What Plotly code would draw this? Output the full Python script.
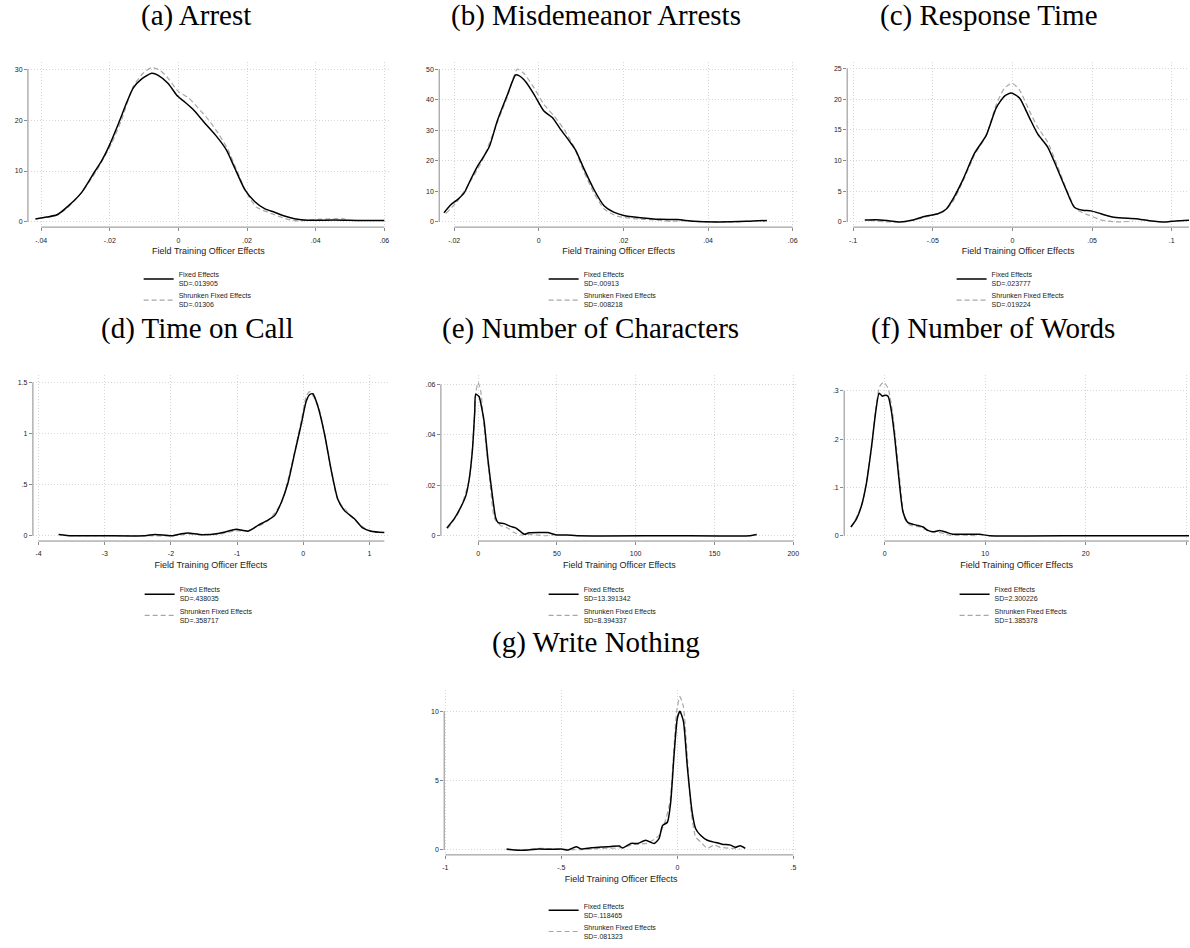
import plotly.graph_objects as go

# ---- values (kernel densities of FTO effects) ----
# (a) Arrest
a_fe_x = [-0.0417, -0.0384, -0.0354, -0.032, -0.0282, -0.0243, -0.0224, -0.0203, -0.0175, -0.015,
          -0.0132, -0.0107, -0.0078, -0.0059, -0.003, -0.0005, 0.0014, 0.0043, 0.0077, 0.0111,
          0.014, 0.0164, 0.0193, 0.0222, 0.0251, 0.028, 0.0309, 0.0338, 0.0377, 0.0455, 0.0532, 0.06]
a_fe_y = [0.58, 0.96, 1.4, 3.2, 5.8, 10.0, 12.0, 14.8, 19.3, 23.6,
          26.3, 28.1, 29.2, 28.8, 27.2, 24.9, 23.8, 22.1, 19.4, 16.8,
          14.1, 10.6, 6.4, 4.0, 2.6, 1.9, 1.15, 0.64, 0.32, 0.38, 0.26, 0.26]
a_sh_x = [-0.0385, -0.0354, -0.032, -0.0282, -0.0243, -0.0195, -0.0165, -0.0132, -0.0103, -0.0078,
          -0.0054, -0.003, 0.0, 0.0029, 0.0057, 0.0086, 0.0116, 0.0145, 0.0169, 0.0198,
          0.0227, 0.0261, 0.029, 0.0319, 0.0348, 0.0406, 0.0474, 0.0498]
a_sh_y = [0.9, 1.3, 3.0, 5.8, 9.6, 15.4, 20.2, 26.6, 29.2, 30.3,
          29.8, 28.2, 25.6, 24.4, 22.4, 20.2, 17.4, 14.1, 10.3, 5.8,
          2.9, 1.9, 1.15, 0.5, 0.2, 0.5, 0.64, 0.4]

# (b) Misdemeanor Arrests
b_fe_x = [-0.0224, -0.0208, -0.0192, -0.0176, -0.0161, -0.0145, -0.0133, -0.0117, -0.0098, -0.0074,
          -0.0055, -0.0047, -0.0031, -0.0011, 0.0012, 0.0032, 0.0051, 0.0071, 0.0087, 0.0106,
          0.013, 0.0154, 0.0177, 0.0201, 0.024, 0.0287, 0.0327, 0.0366, 0.0421, 0.0492, 0.0539]
b_fe_y = [3.0, 5.6, 7.3, 9.6, 13.9, 18.2, 20.8, 24.6, 33.1, 41.7,
          48.1, 47.9, 45.9, 41.7, 36.3, 34.2, 30.4, 26.7, 23.5, 17.6,
          10.7, 5.3, 3.2, 2.1, 1.4, 0.85, 0.75, 0.2, 0.0, 0.2, 0.5]
b_sh_x = [-0.022, -0.0192, -0.0161, -0.0133, -0.0098, -0.0074, -0.0051, -0.0035, -0.0011, 0.0012,
          0.0036, 0.0059, 0.0083, 0.0106, 0.013, 0.0154, 0.0185, 0.0224, 0.0271, 0.0311,
          0.035, 0.0382, 0.046, 0.0492]
b_sh_y = [2.7, 6.9, 13.4, 20.3, 32.6, 41.1, 50.0, 48.6, 43.8, 38.5,
          34.7, 30.4, 24.6, 16.6, 9.6, 4.3, 1.9, 1.1, 0.64, 0.2,
          0.4, 0.1, 0.0, 0.2]

# (c) Response Time
c_fe_x = [-0.0927, -0.0854, -0.077, -0.0708, -0.0624, -0.0541, -0.0468, -0.0415, -0.0374, -0.0311,
          -0.0238, -0.0165, -0.0102, -0.005, -0.0008, 0.0044, 0.0106, 0.0159, 0.0221, 0.0284,
          0.0336, 0.0388, 0.0441, 0.0493, 0.0555, 0.0628, 0.0691, 0.0775, 0.0858, 0.0962, 0.1025, 0.1109]
c_fe_y = [0.32, 0.37, 0.16, 0.0, 0.32, 0.96, 1.33, 2.1, 3.7, 6.9,
          11.2, 14.1, 18.6, 20.5, 21.0, 20.2, 17.0, 14.3, 12.2, 8.5,
          5.3, 2.4, 1.9, 1.8, 1.33, 0.8, 0.64, 0.53, 0.21, 0.0, 0.16, 0.27]
c_sh_x = [-0.0896, -0.079, -0.0708, -0.0603, -0.052, -0.0436, -0.0374, -0.0311, -0.0238, -0.0165,
          -0.0102, -0.005, -0.0002, 0.0044, 0.0106, 0.0159, 0.0221, 0.0284, 0.0347, 0.0399,
          0.0482, 0.0566, 0.0649, 0.0754]
c_sh_y = [0.27, 0.0, 0.0, 0.4, 0.96, 1.6, 3.3, 6.6, 10.9, 14.1,
          19.1, 21.8, 22.6, 21.5, 18.1, 15.4, 13.0, 9.0, 4.8, 2.1,
          1.06, 0.27, 0.0, 0.1]

# (d) Time on Call
d_fe_x = [-3.698, -3.497, -3.045, -2.392, -2.241, -1.99, -1.839, -1.739, -1.538, -1.286,
          -1.085, -1.01, -0.834, -0.683, -0.533, -0.432, -0.332, -0.231, -0.131, -0.03,
          0.045, 0.095, 0.146, 0.221, 0.322, 0.422, 0.523, 0.623, 0.774, 0.899, 1.025, 1.226]
d_fe_y = [0.013, 0.0, 0.0, 0.0, 0.013, 0.0, 0.019, 0.026, 0.01, 0.022,
          0.054, 0.064, 0.045, 0.102, 0.153, 0.198, 0.326, 0.517, 0.804, 1.092,
          1.315, 1.38, 1.39, 1.267, 0.996, 0.645, 0.357, 0.246, 0.166, 0.077, 0.045, 0.032]
d_sh_x = [-3.548, -2.392, -1.99, -1.739, -1.286, -1.035, -0.834, -0.533, -0.332, -0.131,
          -0.03, 0.045, 0.095, 0.221, 0.322, 0.422, 0.523, 0.774, 0.975, 1.126]
d_sh_y = [0.0, 0.0, 0.0, 0.016, 0.013, 0.048, 0.051, 0.147, 0.319, 0.82,
          1.124, 1.363, 1.41, 1.283, 0.996, 0.638, 0.351, 0.16, 0.054, 0.032]

# (e) Number of Characters
e_fe_x = [-19.8, -15.2, -11.0, -7.8, -5.7, -3.6, -2.1, -1.5, 0.6, 2.5,
          3.8, 6.3, 9.1, 11.2, 12.7, 16.5, 20.7, 23.8, 27.0, 29.5,
          32.3, 39.7, 43.9, 50.2, 56.5, 62.9, 120.0, 172.6, 176.8]
e_fe_y = [0.0031, 0.0067, 0.0113, 0.0158, 0.0222, 0.0339, 0.0494, 0.0561, 0.0552, 0.05,
          0.0455, 0.03, 0.0158, 0.007, 0.0052, 0.0048, 0.0037, 0.0031, 0.0016, 0.0006,
          0.0012, 0.0013, 0.0013, 0.0003, 0.0003, 0.0, 0.0, 0.0, 0.0005]
e_sh_x = [-19.4, -12.0, -5.7, -3.0, -1.3, 0.0, 1.7, 3.8, 7.0, 10.5,
          14.3, 18.6, 22.8, 27.0, 31.2, 37.6, 41.8, 48.1]
e_sh_y = [0.0028, 0.0096, 0.022, 0.04, 0.0572, 0.0608, 0.0572, 0.0429, 0.0248, 0.0067,
          0.0041, 0.0031, 0.0013, 0.0003, 0.0005, 0.0003, 0.0, 0.0003]

# (f) Number of Words
f_fe_x = [-3.38, -2.81, -2.32, -1.82, -1.32, -0.89, -0.56, -0.23, 0.0, 0.33,
          0.66, 0.99, 1.42, 1.82, 2.32, 3.15, 3.81, 4.3, 4.8, 5.46,
          6.13, 6.79, 7.45, 8.44, 9.44, 10.43, 20.4, 30.3]
f_fe_y = [0.018, 0.035, 0.062, 0.109, 0.184, 0.258, 0.295, 0.289, 0.291, 0.289,
          0.258, 0.204, 0.116, 0.049, 0.027, 0.022, 0.018, 0.011, 0.008, 0.011,
          0.007, 0.003, 0.003, 0.003, 0.003, 0.0, 0.0, 0.0]
f_sh_x = [-3.31, -2.32, -1.32, -0.89, -0.5, -0.1, 0.33, 0.76, 1.16, 1.56,
          1.99, 2.48, 3.48, 4.47, 5.46, 6.46, 7.78, 9.1]
f_sh_y = [0.018, 0.061, 0.18, 0.265, 0.309, 0.318, 0.305, 0.258, 0.184, 0.103,
          0.035, 0.022, 0.018, 0.009, 0.007, 0.001, 0.001, 0.0]

# (g) Write Nothing
g_fe_x = [-0.736, -0.7, -0.643, -0.6, -0.543, -0.5, -0.471, -0.436, -0.414, -0.371,
          -0.329, -0.286, -0.25, -0.236, -0.2, -0.171, -0.136, -0.1, -0.079, -0.064,
          -0.043, -0.029, -0.014, 0.0, 0.011, 0.026, 0.043, 0.064, 0.079, 0.1,
          0.129, 0.164, 0.193, 0.229, 0.25, 0.271, 0.293]
g_fe_y = [0.07, 0.0, 0.0, 0.07, 0.05, 0.07, 0.0, 0.24, 0.07, 0.16,
          0.21, 0.26, 0.28, 0.14, 0.47, 0.47, 0.7, 0.47, 0.82, 1.76,
          2.0, 3.4, 6.9, 9.5, 10.0, 9.3, 6.0, 2.7, 1.53, 1.06,
          0.7, 0.54, 0.42, 0.35, 0.19, 0.31, 0.12]
g_sh_x = [-0.736, -0.671, -0.6, -0.5, -0.414, -0.329, -0.243, -0.186, -0.129, -0.079,
          -0.05, -0.031, -0.017, -0.003, 0.011, 0.026, 0.043, 0.06, 0.079, 0.1,
          0.129, 0.157, 0.186, 0.229, 0.271]
g_sh_y = [0.02, 0.0, 0.12, 0.05, 0.02, 0.12, 0.16, 0.4, 0.49, 1.06,
          2.2, 3.6, 6.7, 10.0, 11.06, 10.35, 6.7, 2.7, 0.94, 0.59,
          0.12, 0.35, 0.19, 0.12, 0.07]

titles = ["(a) Arrest", "(b) Misdemeanor Arrests", "(c) Response Time", "(d) Time on Call",
          "(e) Number of Characters", "(f) Number of Words", "(g) Write Nothing"]
sd_fe = [".013905", ".00913", ".023777", ".438035", "13.391342", "2.300226", ".118465"]
sd_shrunk = [".01306", ".008218", ".019224", ".358717", "8.394337", "1.385378", ".081323"]

x_ticks = [[-0.04, -0.02, 0, 0.02, 0.04, 0.06], [-0.02, 0, 0.02, 0.04, 0.06],
           [-0.1, -0.05, 0, 0.05, 0.1], [-4, -3, -2, -1, 0, 1], [0, 50, 100, 150, 200],
           [0, 10, 20, 30], [-1, -0.5, 0, 0.5]]
x_labels = [["-.04", "-.02", "0", ".02", ".04", ".06"], ["-.02", "0", ".02", ".04", ".06"],
            ["-.1", "-.05", "0", ".05", ".1"], ["-4", "-3", "-2", "-1", "0", "1"],
            ["0", "50", "100", "150", "200"], ["0", "10", "20", "30"], ["-1", "-.5", "0", ".5"]]
y_ticks = [[0, 10, 20, 30], [0, 10, 20, 30, 40, 50], [0, 5, 10, 15, 20, 25], [0, 0.5, 1, 1.5],
           [0, 0.02, 0.04, 0.06], [0, 0.1, 0.2, 0.3], [0, 5, 10]]
y_labels = [["0", "10", "20", "30"], ["0", "10", "20", "30", "40", "50"],
            ["0", "5", "10", "15", "20", "25"], ["0", ".5", "1", "1.5"],
            ["0", ".02", ".04", ".06"], ["0", ".1", ".2", ".3"], ["0", "5", "10"]]

fe_x = [a_fe_x, b_fe_x, c_fe_x, d_fe_x, e_fe_x, f_fe_x, g_fe_x]
fe_y = [a_fe_y, b_fe_y, c_fe_y, d_fe_y, e_fe_y, f_fe_y, g_fe_y]
sh_x = [a_sh_x, b_sh_x, c_sh_x, d_sh_x, e_sh_x, f_sh_x, g_sh_x]
sh_y = [a_sh_y, b_sh_y, c_sh_y, d_sh_y, e_sh_y, f_sh_y, g_sh_y]

# ---- layout geometry, in page pixels of the 1190x948 window ----
W, H = 1190, 948


def px_x(p):
    return p / W


def px_y(p):
    return 1 - p / H


# plot region: left, right, top, bottom
boxes = [(26, 388, 63, 232), (438.3, 798, 63, 232), (847.3, 1190, 63, 232),
         (31, 388, 383.3, 552.7), (440, 798, 383.3, 552.7), (844.3, 1190, 383.3, 552.7),
         (443.3, 798, 705, 873.3)]
x_ranges = [[-0.04387, 0.06137], [-0.02354, 0.06125], [-0.10376, 0.1108], [-4.086, 1.297],
            [-23.6, 203.0], [-4.04, 30.29], [-1.005, 0.52]]
y_ranges = [[-1.02, 31.48], [-1.70, 52.47], [-0.846, 26.12], [-0.0517, 1.571],
            [-0.0021, 0.06365], [-0.011, 0.3324], [-0.353, 11.53]]
title_xy = [(194, 15.5), (596, 15.5), (989, 15.5), (196, 335.5), (590, 335.5), (994, 335.5),
            (595, 656)]
legend_text_left = [177, 583, 992, 178, 583, 995, 583]
legend_first_line = [276, 276, 276, 598, 598, 598, 921]

SANS = "Liberation Sans"
AXIS_GRAY = "#8a8a8a"
GRID = "#d6d6d6"

fig = go.Figure()
layout = dict(width=W, height=H, margin=dict(l=0, r=0, t=0, b=0),
              paper_bgcolor="white", plot_bgcolor="white",
              font=dict(family=SANS, color="#222"))
annotations = []
shapes = []

for i in range(7):
    n = "" if i == 0 else str(i + 1)
    xa, ya, lg = "x" + n, "y" + n, "legend" + n
    left, right, top, bottom = boxes[i]

    fig.add_trace(go.Scatter(
        x=sh_x[i], y=sh_y[i], xaxis=xa, yaxis=ya, mode="lines", legend=lg, legendrank=2,
        name="Shrunken Fixed Effects<br>SD=" + sd_shrunk[i],
        line=dict(color="#a8a8a8", width=1.2, dash="5px,3px", shape="spline", smoothing=0.6),
        hoverinfo="skip"))
    fig.add_trace(go.Scatter(
        x=fe_x[i], y=fe_y[i], xaxis=xa, yaxis=ya, mode="lines", legend=lg, legendrank=1,
        name="Fixed Effects<br>SD=" + sd_fe[i],
        line=dict(color="black", width=1.5, shape="spline", smoothing=0.6),
        hoverinfo="skip"))

    layout["xaxis" + n] = dict(
        domain=[px_x(left), min(px_x(right), 1)], range=x_ranges[i], anchor=ya,
        tickvals=x_ticks[i], ticktext=x_labels[i], ticks="outside", ticklen=3,
        tickcolor=AXIS_GRAY, tickfont=dict(size=7, family=SANS, color="#222"),
        ticklabelstandoff=3,
        showline=False, zeroline=False, showgrid=True, gridcolor=GRID, griddash="1px,2px",
        gridwidth=1,
        title=dict(text="Field Training Officer Effects", font=dict(size=9, family=SANS),
                   standoff=5))
    layout["yaxis" + n] = dict(
        domain=[px_y(bottom), px_y(top)], range=y_ranges[i], anchor=xa,
        tickvals=y_ticks[i], ticktext=y_labels[i], ticks="outside", ticklen=3,
        tickcolor=AXIS_GRAY, tickfont=dict(size=7, family=SANS, color="#222"),
        showline=False, zeroline=False, showgrid=True, gridcolor=GRID, griddash="1px,2px",
        gridwidth=1)

    # Stata-style axis lines spanning the labelled ticks
    x_end = max(x_ticks[i][-1], max(fe_x[i]))
    shapes.append(dict(type="line", xref=xa, yref=ya + " domain", x0=x_ticks[i][0], x1=x_end,
                       y0=0, y1=0, line=dict(color=AXIS_GRAY, width=1)))
    shapes.append(dict(type="line", xref=xa + " domain", yref=ya, x0=0, x1=0,
                       y0=y_ticks[i][0], y1=y_ticks[i][-1], line=dict(color=AXIS_GRAY, width=1)))

    layout[lg] = dict(
        x=px_x(legend_text_left[i] - 40), y=px_y(legend_first_line[i] - 7),
        xanchor="left", yanchor="top", bgcolor="rgba(0,0,0,0)", borderwidth=0,
        font=dict(size=7, family=SANS, color="#222"), itemwidth=30, tracegroupgap=0)

    tx, ty = title_xy[i]
    annotations.append(dict(text=titles[i], x=px_x(tx), y=px_y(ty), xref="paper", yref="paper",
                            xanchor="center", yanchor="middle", showarrow=False,
                            font=dict(family="Liberation Serif", size=29, color="black")))

layout["annotations"] = annotations
layout["shapes"] = shapes
fig.update_layout(**layout)
# the page is photographed at its own size, so drop the default body margin
fig.write_html("out.html", config={"displayModeBar": False},
               post_script="document.body.style.margin = '0px';")
